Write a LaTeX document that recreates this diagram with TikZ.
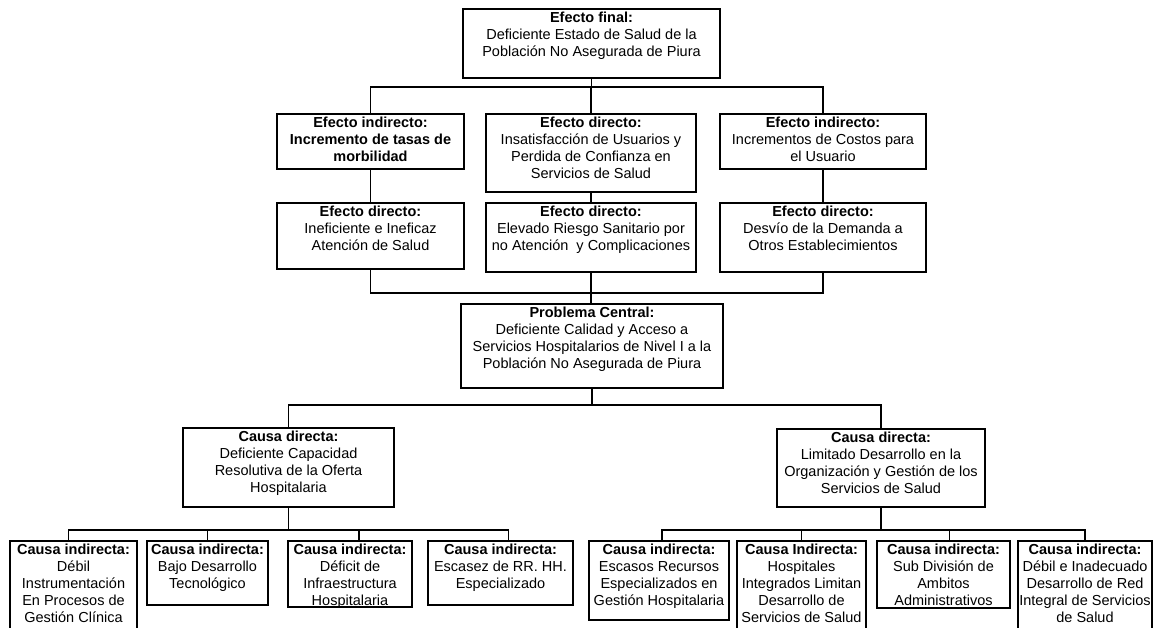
\documentclass[tikz,border=0pt]{standalone}
\usepackage{fontspec}
\setmainfont{Liberation Sans}
\usetikzlibrary{calc}
\newcommand{\mkbox}[6]{\node[bx] (#1) at (#2,#3) {\parbox[t][\dimexpr #5pt-#3pt\relax][t]{\dimexpr #4pt-#2pt\relax}{\centering\vspace{2.5pt}#6\par}};}
\begin{document}
\begin{tikzpicture}[x=1pt,y=-1pt,
  bx/.style={draw=black,line width=1.2pt,inner sep=0pt,outer sep=0pt,anchor=north west,
    font=\fontsize{14.5}{17}\selectfont},
  ln/.style={draw=black,line width=1.2pt}]
\useasboundingbox (0,0) rectangle (1157,628);
\clip (0,0) rectangle (1157,628);
% effects
\mkbox{top}{463}{9}{720}{78}{\textbf{Efecto final:}\\Deficiente Estado de Salud de la\\Población No Asegurada de Piura}
\mkbox{e1}{277}{114}{464}{169}{\textbf{Efecto indirecto:\\Incremento de tasas de\\morbilidad}}
\mkbox{e2}{486}{114}{696}{192}{\textbf{Efecto directo:}\\Insatisfacción de Usuarios y\\Perdida de Confianza en\\Servicios de Salud}
\mkbox{e3}{720}{114}{926}{169}{\textbf{Efecto indirecto:}\\Incrementos de Costos para\\el Usuario}
\mkbox{d1}{277}{203}{464}{269}{\textbf{Efecto directo:}\\Ineficiente e Ineficaz\\Atención de Salud}
\mkbox{d2}{486}{203}{696}{272}{\textbf{Efecto directo:}\\Elevado Riesgo Sanitario por\\no Atención\ \ y Complicaciones}
\mkbox{d3}{720}{203}{926}{272}{\textbf{Efecto directo:}\\Desvío de la Demanda a\\Otros Establecimientos}
% central problem
\mkbox{pc}{461}{304}{723}{388}{\textbf{Problema Central:}\\Deficiente Calidad y Acceso a\\Servicios Hospitalarios de Nivel I a la\\Población No Asegurada de Piura}
% direct causes
\mkbox{c1}{183}{428}{394}{507}{\textbf{Causa directa:}\\Deficiente Capacidad\\Resolutiva de la Oferta\\Hospitalaria}
\mkbox{c2}{777}{429}{985}{507}{\textbf{Causa directa:}\\Limitado Desarrollo en la\\Organización y Gestión de los\\Servicios de Salud}
% indirect causes
\mkbox{b1}{10}{541}{137}{645}{\textbf{Causa indirecta:}\\Débil\\Instrumentación\\En Procesos de\\Gestión Clínica}
\mkbox{b2}{147}{541}{268}{605}{\textbf{Causa indirecta:}\\Bajo Desarrollo\\Tecnológico}
\mkbox{b3}{288}{541}{412}{607}{\textbf{Causa indirecta:}\\Déficit de\\Infraestructura\\Hospitalaria}
\mkbox{b4}{428}{541}{573}{605}{\textbf{Causa indirecta:}\\Escasez de RR. HH.\\Especializado}
\mkbox{b5}{589}{541}{729}{620}{\textbf{Causa indirecta:}\\Escasos Recursos\\Especializados en\\Gestión Hospitalaria}
\mkbox{b6}{737}{541}{866}{645}{\textbf{Causa Indirecta:}\\Hospitales\\Integrados Limitan\\Desarrollo de\\Servicios de Salud}
\mkbox{b7}{877}{541}{1010}{608}{\textbf{Causa indirecta:}\\Sub División de\\Ambitos\\Administrativos}
\mkbox{b8}{1018}{541}{1152}{645}{\textbf{Causa indirecta:}\\Débil e Inadecuado\\Desarrollo de Red\\Integral de Servicios\\de Salud}
% junctions
\coordinate (j1) at (592,87);
\coordinate (j2) at (592,293);
\coordinate (j3) at (592,405);
\coordinate (j4) at (288,530);
\coordinate (j5) at (881,530);
% connectors
\draw[ln] (top.south) -- (top.south |- j1);
\draw[ln] (e1.north) -- (e1.north |- j1) -- (e3.north |- j1) -- (e3.north);
\draw[ln] (e2.north) -- (e2.north |- j1);
\draw[ln] (e1.south) -- (d1.north);
\draw[ln] (e2.south) -- (d2.north);
\draw[ln] (e3.south) -- (d3.north);
\draw[ln] (d1.south) -- (d1.south |- j2) -- (d3.south |- j2) -- (d3.south);
\draw[ln] (d2.south) -- (d2.south |- pc.north);
\draw[ln] (pc.south) -- (pc.south |- j3);
\draw[ln] (c1.north) -- (c1.north |- j3) -- (c2.north |- j3) -- (c2.north);
\draw[ln] (c1.south) -- (c1.south |- j4);
\draw[ln] ([xshift=-5pt]b1.north) -- ([xshift=-5pt]b1.north |- j4) -- ([xshift=8pt]b4.north |- j4) -- ([xshift=8pt]b4.north);
\draw[ln] (b2.north) -- (b2.north |- j4);
\draw[ln] ([xshift=9pt]b3.north) -- ([xshift=9pt]b3.north |- j4);
\draw[ln] (c2.south) -- (c2.south |- j5);
\draw[ln] ([xshift=3pt]b5.north) -- ([xshift=3pt]b5.north |- j5) -- (b8.north |- j5) -- (b8.north);
\draw[ln] (b6.north) -- (b6.north |- j5);
\draw[ln] ([xshift=6pt]b7.north) -- ([xshift=6pt]b7.north |- j5);
\end{tikzpicture}
\end{document}
